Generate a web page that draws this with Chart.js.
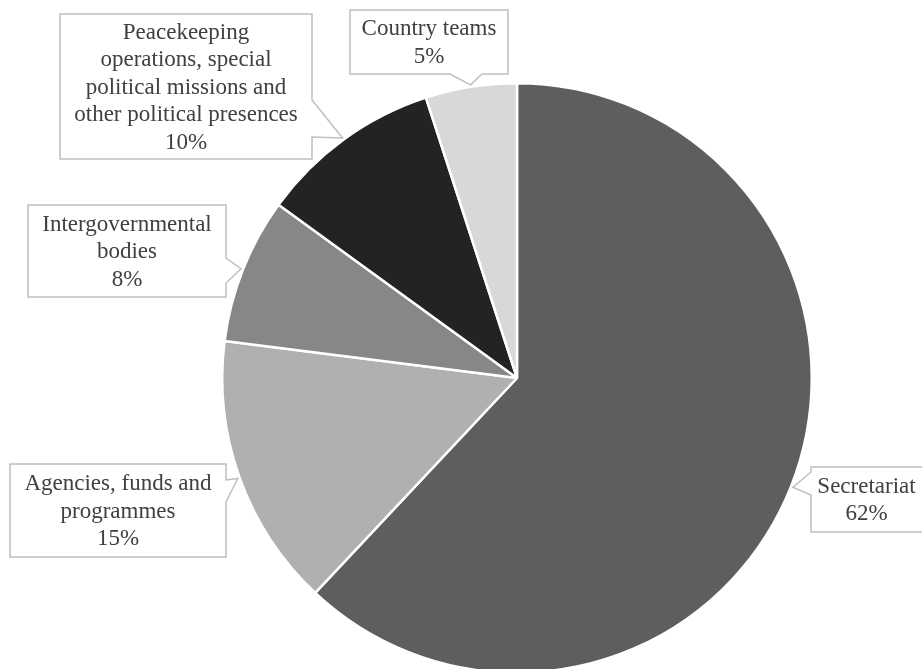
<!DOCTYPE html>
<html>
<head>
<meta charset="utf-8">
<script src="https://cdn.jsdelivr.net/npm/chart.js@4/dist/chart.umd.min.js"></script>
<style>
  html, body { margin: 0; padding: 0; background: #fff; overflow: hidden; }
  #wrap { position: relative; width: 922px; height: 760px; }
</style>
</head>
<body>
<div id="wrap"><canvas id="pieplot"></canvas></div>
<script>
// shares, clockwise from 12 o'clock
const categories = [
  'Secretariat',
  'Agencies, funds and programmes',
  'Intergovernmental bodies',
  'Peacekeeping operations, special political missions and other political presences',
  'Country teams'
];
const shares = [62, 15, 8, 10, 5];

// how each label is broken into lines inside its callout
const labelLines = [
  ['Secretariat'],
  ['Agencies, funds and', 'programmes'],
  ['Intergovernmental', 'bodies'],
  ['Peacekeeping', 'operations, special', 'political missions and', 'other political presences'],
  ['Country teams']
];

const sliceColors = ['#5e5e5e', '#b0b0b0', '#878787', '#232323', '#d8d8d8'];

// callout boxes: rect, which side the pointer leaves from, and where its base sits on that side
const callouts = [
  { x: 811, y: 467, w: 113, h: 65, side: 'left', base: [5, 28] },
  { x: 10, y: 464, w: 216, h: 93, side: 'right', base: [16, 38] },
  { x: 28, y: 205, w: 198, h: 92, side: 'right', base: [53, 78] },
  { x: 60, y: 14, w: 252, h: 145, side: 'right', base: [86, 123] },
  { x: 350, y: 10, w: 158, h: 64, side: 'bottom', base: [100, 132] }
];

const calloutPlugin = {
  id: 'callouts',
  afterDraw(chart) {
    const ctx = chart.ctx;
    const arcs = chart.getDatasetMeta(0).data;
    ctx.save();
    arcs.forEach((arc, i) => {
      const c = callouts[i];
      const p = arc.getProps(['x', 'y', 'startAngle', 'endAngle', 'outerRadius'], true);
      const mid = (p.startAngle + p.endAngle) / 2;
      const tx = p.x + (p.outerRadius + 2) * Math.cos(mid);
      const ty = p.y + (p.outerRadius + 2) * Math.sin(mid);
      const L = c.x, T = c.y, R = c.x + c.w, B = c.y + c.h;

      ctx.beginPath();
      ctx.moveTo(L, T);
      ctx.lineTo(R, T);
      if (c.side === 'right') {
        ctx.lineTo(R, T + c.base[0]);
        ctx.lineTo(tx, ty);
        ctx.lineTo(R, T + c.base[1]);
      }
      ctx.lineTo(R, B);
      if (c.side === 'bottom') {
        ctx.lineTo(L + c.base[1], B);
        ctx.lineTo(tx, ty);
        ctx.lineTo(L + c.base[0], B);
      }
      ctx.lineTo(L, B);
      if (c.side === 'left') {
        ctx.lineTo(L, T + c.base[1]);
        ctx.lineTo(tx, ty);
        ctx.lineTo(L, T + c.base[0]);
      }
      ctx.closePath();
      ctx.fillStyle = '#ffffff';
      ctx.fill();
      ctx.lineWidth = 1.5;
      ctx.strokeStyle = '#bfbfbf';
      ctx.stroke();

      const lines = labelLines[i].concat([shares[i] + '%']);
      const lh = 27.5;
      const cx = (L + Math.min(R, 922)) / 2;
      const cy = (T + B) / 2;
      ctx.fillStyle = '#404040';
      ctx.font = '23px "Liberation Serif", "Times New Roman", serif';
      ctx.textAlign = 'center';
      ctx.textBaseline = 'middle';
      lines.forEach((t, k) => {
        ctx.fillText(t, cx, cy + (k - (lines.length - 1) / 2) * lh + 1);
      });
    });
    ctx.restore();
  }
};

const data = {
  labels: categories,
  datasets: [{
    data: shares,
    backgroundColor: sliceColors,
    borderColor: '#ffffff',
    borderWidth: 2.5
  }]
};

const config = {
  type: 'pie',
  data: data,
  options: {
    responsive: true,
    maintainAspectRatio: false,
    animation: false,
    layout: { padding: { left: 221, top: 82, right: 109, bottom: 86 } },
    plugins: {
      legend: { display: false },
      tooltip: { enabled: false }
    }
  },
  plugins: [calloutPlugin]
};

const myChart = new Chart(document.getElementById('pieplot'), config);
</script>
</body>
</html>
